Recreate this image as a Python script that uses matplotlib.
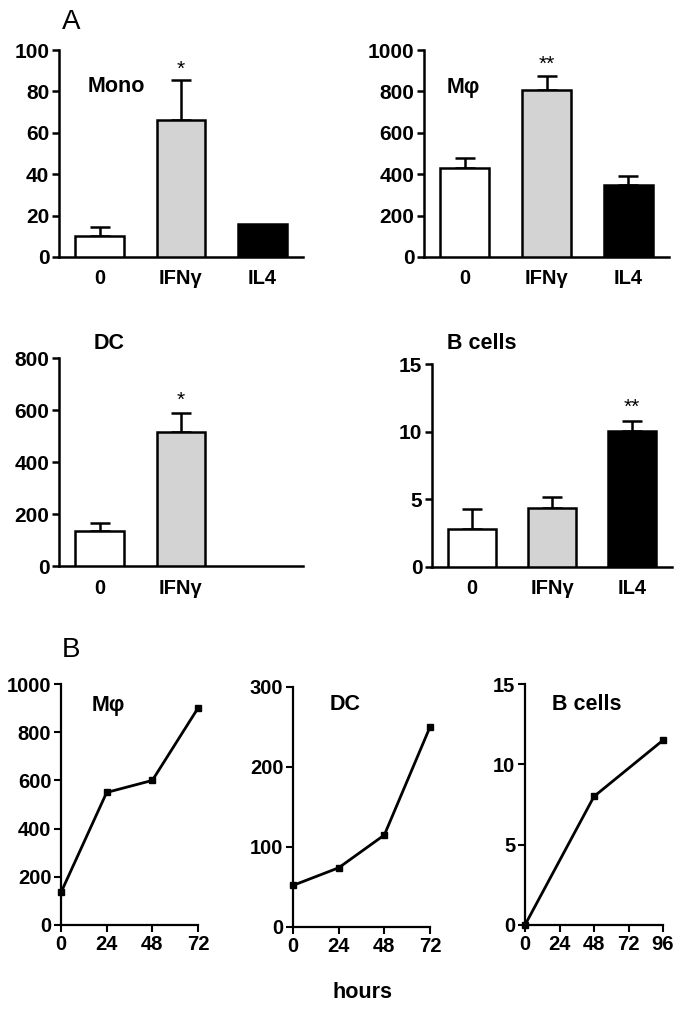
import matplotlib
matplotlib.use("Agg")
import matplotlib.pyplot as plt

plt.rcParams['font.family'] = ['Liberation Sans', 'DejaVu Sans']

# ---------------- data ----------------
conds3 = ['0', 'IFNγ', 'IL4']
conds2 = ['0', 'IFNγ']
bar_colors = ['white', '#d3d3d3', 'black']

mono_vals = [10, 66, 16]
mono_err = [4.5, 19.5, 0]
mono_sig = ['', '*', '']

mac_vals = [430, 805, 350]
mac_err = [50, 70, 40]
mac_sig = ['', '**', '']

dc_vals = [135, 515]
dc_err = [30, 75]
dc_sig = ['', '*']

b_vals = [2.8, 4.35, 10.05]
b_err = [1.45, 0.8, 0.75]
b_sig = ['', '', '**']

hours_mac = [0, 24, 48, 72]
time_mac = [135, 550, 600, 900]
hours_dc = [0, 24, 48, 72]
time_dc = [52, 74, 115, 250]
hours_b = [0, 48, 96]
time_b = [0, 8, 11.5]

W, H = 684, 1010
fig = plt.figure(figsize=(W / 100, H / 100), dpi=100)

def box(l, t, r, b):
    return [l / W, 1 - b / H, (r - l) / W, (b - t) / H]

def ftext(x, y, s, **kw):
    return fig.text(x / W, 1 - y / H, s, **kw)

def style(ax, lw=1.8):
    for s in ['top', 'right']:
        ax.spines[s].set_visible(False)
    for s in ['left', 'bottom']:
        ax.spines[s].set_linewidth(lw)

def bar_panel(rect, labels, vals, errs, sig, ymax, yticks, sig_off):
    ax = fig.add_axes(box(*rect))
    style(ax)
    x = list(range(len(vals)))
    ax.bar(x, vals, width=0.6, color=bar_colors[:len(vals)], edgecolor='black',
           linewidth=1.8, zorder=3)
    for xi, v, e in zip(x, vals, errs):
        if e > 0:
            ax.errorbar(xi, v, yerr=[[0], [e]], fmt='none', ecolor='black',
                        elinewidth=1.8, capsize=7.5, capthick=1.8, zorder=2)
    for xi, v, e, s in zip(x, vals, errs, sig):
        if s:
            ax.text(xi, v + e + sig_off, s, ha='center', va='bottom', fontsize=15)
    ax.set_xlim(-0.5, 2.5)
    ax.set_ylim(0, ymax)
    ax.set_yticks(yticks)
    ax.set_xticks(x)
    ax.set_xticklabels(labels, fontsize=14.5, fontweight='bold')
    ax.tick_params(axis='x', length=0, pad=9)
    ax.tick_params(axis='y', direction='out', length=5, width=1.8, labelsize=15, pad=2)
    for t in ax.get_yticklabels():
        t.set_fontweight('bold')
    return ax

bar_panel((59, 50, 303, 257), conds3, mono_vals, mono_err, mono_sig, 100,
          [0, 20, 40, 60, 80, 100], 0.5)
bar_panel((424, 50, 669, 257), conds3, mac_vals, mac_err, mac_sig, 1000,
          [0, 200, 400, 600, 800, 1000], 12)
bar_panel((59, 358, 303, 566), conds2, dc_vals, dc_err, dc_sig, 800,
          [0, 200, 400, 600, 800], 12)
bar_panel((432, 364, 672, 567), conds3, b_vals, b_err, b_sig, 15,
          [0, 5, 10, 15], 0.3)

ttl = dict(fontsize=15.5, fontweight='bold', ha='left', va='center')
ftext(88, 86, 'Mono', **ttl)
ftext(447, 87, 'Mφ', **ttl)
ftext(94, 343, 'DC', **ttl)
ftext(447, 343, 'B cells', **ttl)

ftext(62, 22, 'A', fontsize=20, ha='left', va='center')
ftext(62, 650, 'B', fontsize=20, ha='left', va='center')

def line_panel(rect, xs, ys, ymax, yticks, xticks):
    ax = fig.add_axes(box(*rect))
    style(ax, lw=1.6)
    ax.plot(xs, ys, color='black', lw=2, marker='s', markersize=4.5,
            clip_on=False, zorder=3)
    ax.set_xlim(xticks[0], xticks[-1])
    ax.set_ylim(0, ymax)
    ax.set_yticks(yticks)
    ax.set_xticks(xticks)
    ax.tick_params(axis='both', direction='out', length=5, width=1.5, pad=2,
                   labelsize=14.5)
    for t in ax.get_yticklabels() + ax.get_xticklabels():
        t.set_fontweight('bold')
    return ax

line_panel((61, 684, 198, 925), hours_mac, time_mac, 1000,
           [0, 200, 400, 600, 800, 1000], [0, 24, 48, 72])
line_panel((293, 687, 430, 927), hours_dc, time_dc, 300,
           [0, 100, 200, 300], [0, 24, 48, 72])
line_panel((525, 684, 663, 925), hours_b, time_b, 15,
           [0, 5, 10, 15], [0, 24, 48, 72, 96])

ftext(92, 705, 'Mφ', **ttl)
ftext(330, 704, 'DC', **ttl)
ftext(552, 704, 'B cells', **ttl)

ftext(362, 992, 'hours', fontsize=15.5, fontweight='bold', ha='center', va='center')

fig.savefig('out.png', dpi=100)
